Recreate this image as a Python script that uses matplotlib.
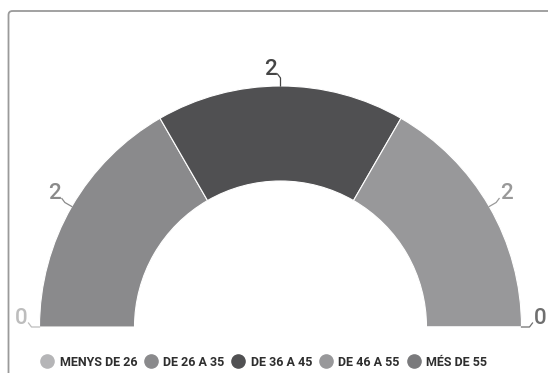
import numpy as np
from matplotlib import pyplot as plt
from matplotlib.lines import Line2D
from matplotlib.patches import FancyBboxPatch

plt.rcParams['font.family'] = ['Roboto', 'DejaVu Sans']

# Age groups and counts
groups = ["MENYS DE 26", "DE 26 A 35", "DE 36 A 45", "DE 46 A 55", "MÉS DE 55"]
counts = [0, 2, 2, 2, 0]

slice_colors = ["#b5b5b7", "#8a8a8c", "#505052", "#98989a", "#7a7a7c"]
label_colors = ["#bdbdbd", "#8a8a8a", "#454545", "#999999", "#6f6f6f"]

fig = plt.figure(figsize=(5.48, 3.73), dpi=100)
ax = fig.add_axes([0, 0, 1, 1])

cx, cy = 280.5, 327
r_out, ring = 241, 95

# half donut: add an invisible remainder for the lower half
total = sum(counts)
vals = counts + [total]
cols = slice_colors + ["none"]
wedges, _ = ax.pie(vals, colors=cols, startangle=180, counterclock=True,
                   center=(cx, cy), radius=r_out,
                   wedgeprops=dict(width=ring, edgecolor="white", linewidth=0.8))
wedges[-1].set_edgecolor("none")

# value labels with leader lines
cum = np.cumsum([0] + counts)
for i, v in enumerate(counts):
    mid = 180 + 180 * (cum[i] + cum[i + 1]) / 2 / total
    t = np.radians(mid)
    c, s = np.cos(t), np.sin(t)
    p0 = (cx + r_out * c, cy + r_out * s)
    p1 = (cx + (r_out + 8) * c, cy + (r_out + 8) * s)
    side = 1 if c > 1e-6 else -1
    p2 = (p1[0] + 3 * side, p1[1] - 4)
    ax.plot([p0[0], p1[0], p2[0]], [p0[1], p1[1], p2[1]],
            color=label_colors[i], lw=0.9)
    ax.text(p2[0] + side * 1, p2[1] + 1, str(v), fontsize=16, fontweight="medium",
            color=label_colors[i], ha="left" if side > 0 else "right",
            va="baseline")

# card border
card = FancyBboxPatch((8.5, 11), 560, 400, boxstyle="round,pad=0,rounding_size=4",
                      fill=False, edgecolor="#9a9a9a", lw=1.3, clip_on=True)
ax.add_patch(card)

# legend
handles = [Line2D([], [], marker="o", ls="none", markersize=9.5,
                  markerfacecolor=c, markeredgecolor=c) for c in slice_colors]
leg = ax.legend(handles, groups, loc="center", bbox_to_anchor=(264 / 548, 1 - 362 / 373),
                ncol=5, frameon=False, handletextpad=0.5, columnspacing=0.6,
                handlelength=1.0, borderaxespad=0,
                prop=dict(family="Roboto", weight="bold", size=9))
for txt in leg.get_texts():
    txt.set_color("#2e2e2e")

ax.set_xlim(0, 548)
ax.set_ylim(373, 0)
ax.set_aspect("equal")
ax.axis("off")

fig.savefig("out.png", dpi=100)
